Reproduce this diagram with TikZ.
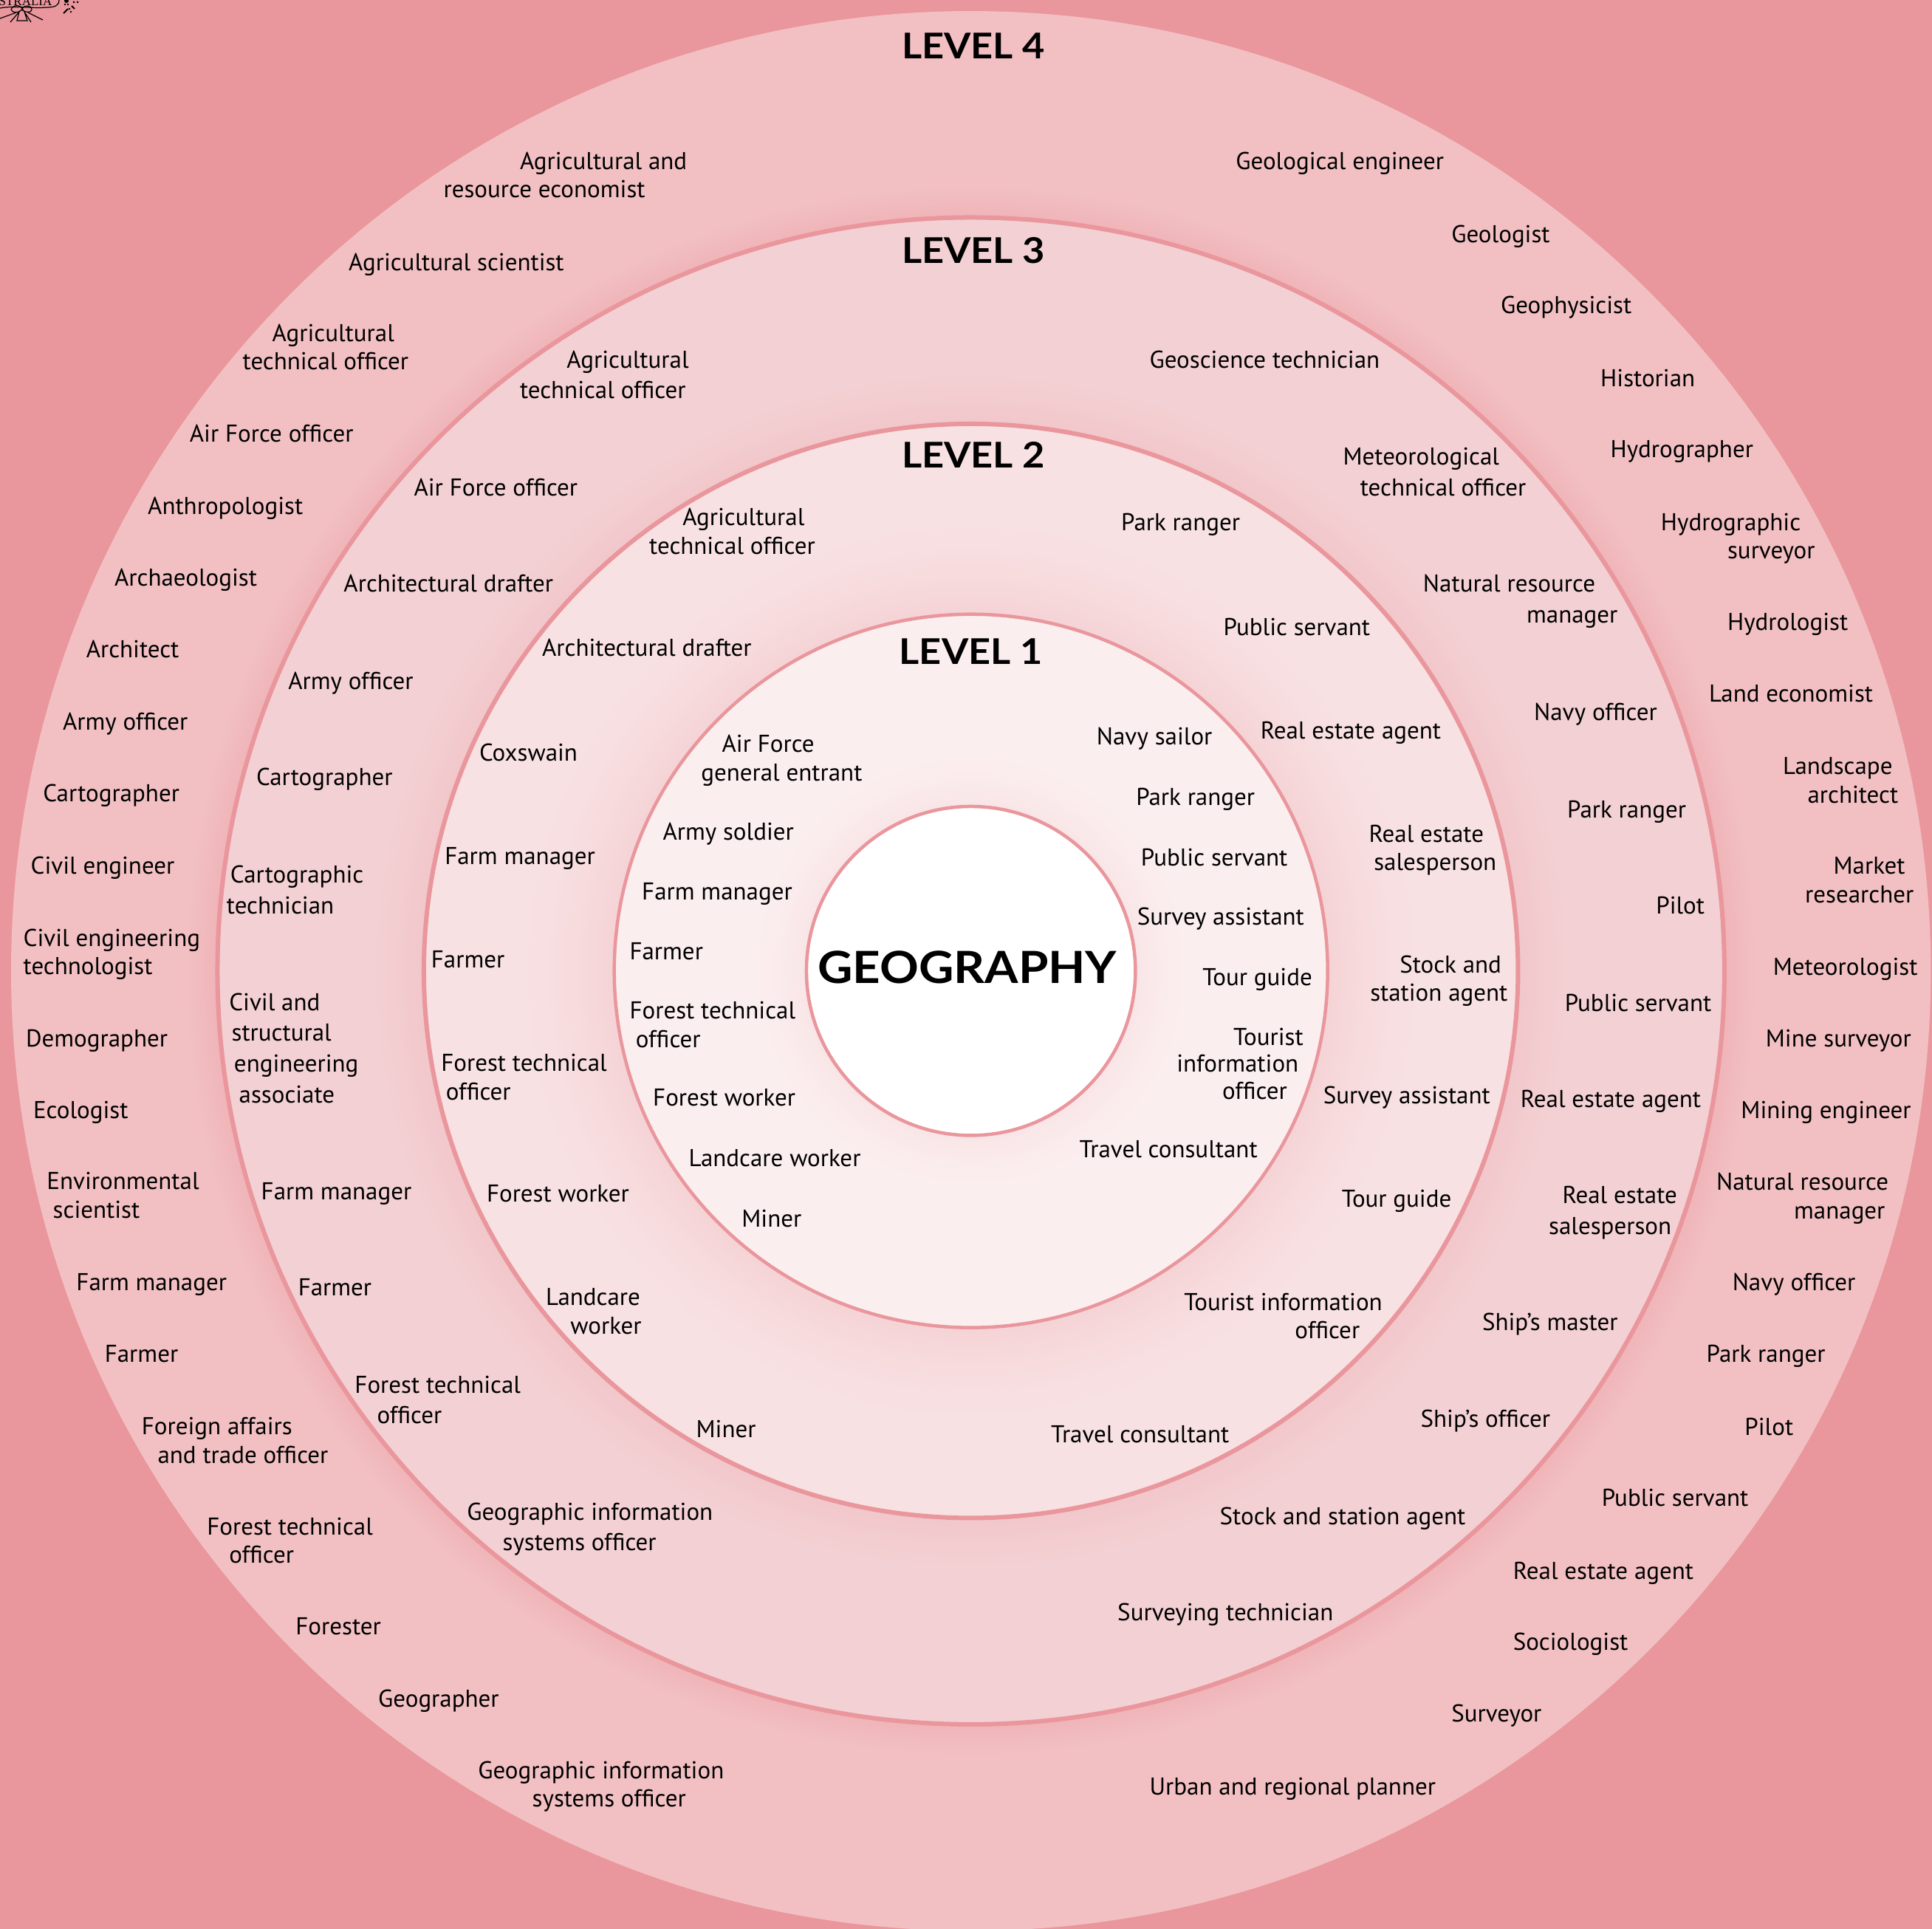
\documentclass[tikz,border=0pt]{standalone}
\usepackage{fontspec}
\setmainfont{PT Sans}
\newfontfamily\headfont{Lato}[FakeStretch=1.09]
\newfontfamily\logofont{Liberation Serif}
\definecolor{bgpink}{HTML}{E9969C}
\definecolor{ringfour}{HTML}{F2C0C3}
\definecolor{ringthree}{HTML}{F3D0D3}
\definecolor{ringtwo}{HTML}{F8E1E3}
\definecolor{ringone}{HTML}{FBEEEF}
\newlength{\ru}\setlength{\ru}{1.66837pt}
\newcommand{\I}[1]{\hspace*{#1\ru}}
\newcommand{\LL}{\\[3.3pt]}
\tikzset{
  x=1.66837pt,y=-1.66837pt,
  job/.style={anchor=west,inner sep=0pt,outer sep=0pt,align=left,text=black,
    font=\fontsize{33}{38.4}\selectfont},
  levelhead/.style={inner sep=0pt,font=\headfont\bfseries\fontsize{48}{50}\selectfont},
  ring/.style={draw=bgpink,line width=#1},
}
% concentric halo: #1 radius, #2 width, #3 strength percent, #4 base colour
\newcommand{\halo}[4]{%
  \foreach \k in {0,...,31}{%
    \pgfmathsetmacro{\rr}{#1+#2*(1-\k/32)}
    \pgfmathsetmacro{\pp}{#3*(\k/31)^1.5}
    \fill[bgpink!\pp!#4] (788,788) circle (\rr);
  }}
\begin{document}
\begin{tikzpicture}
\useasboundingbox (0,0) rectangle (1568,1565.6);
\fill[bgpink] (0,0) rectangle (1568,1565.6);
\begin{scope}
\clip (0,0) rectangle (1568,1565.6);
% level 4
\fill[ringfour] (788,788) circle (779);
\halo{611.5}{32}{28}{ringfour}
\draw[ring=6pt,fill=ringthree] (788,788) circle (611.5);
\halo{444}{45}{16}{ringthree}
\draw[ring=6pt,fill=ringtwo] (788,788) circle (444);
\halo{289.5}{80}{18}{ringtwo}
\draw[ring=4.5pt,fill=ringone] (788,788) circle (289.5);
\halo{133.5}{45}{10}{ringone}
\draw[ring=4.5pt,fill=white] (788,788) circle (133.5);
\end{scope}
% headings
\node[levelhead] (h4) at (790,37) {LEVEL 4};
\node[levelhead] (h3) at (790,203) {LEVEL 3};
\node[levelhead] (h2) at (790,369) {LEVEL 2};
\node[levelhead] (h1) at (788,529) {LEVEL 1};
\node[inner sep=0pt,font=\headfont\bfseries\fontsize{60}{62}\selectfont] (title) at (785,785) {GEOGRAPHY};
% job labels
\foreach \px/\py/\txt [count=\n] in {
360/142.5/\I{62}Agricultural and\\resource economist,
283/213/Agricultural scientist,
197/282/\I{24}Agricultural\\technical officer,
154/352/Air Force officer,
120/411/Anthropologist,
93/469/Archaeologist,
70/527/Architect,
51/586/Army officer,
35/644/Cartographer,
25/703/Civil engineer,
19/773/Civil engineering\\technologist,
21/843/Demographer,
27/901/Ecologist,
38/970.5/Environmental\\\I{5}scientist,
62/1041/Farm manager,
85/1099/Farmer,
115/1169.5/Foreign affairs\\\I{13}and trade officer,
168/1250.5/Forest technical\\\I{18}officer,
240/1320/Forester,
307/1379/Geographer,
388/1448.5/Geographic information\\\I{44}systems officer,
933/1450/Urban and regional planner,
1178/1391/Surveyor,
1228/1333/Sociologist,
1228/1275/Real estate agent,
1300/1216/Public servant,
1416/1158/Pilot,
1385/1099/Park ranger,
1406/1041/Navy officer,
1393/971/Natural resource\\\I{63}manager,
1413/901/Mining engineer,
1433/843/Mine surveyor,
1439/785/Meteorologist,
1465/714.5/\I{23}Market\\researcher,
1447/633.5/Landscape\\\I{20}architect,
1387/563/Land economist,
1402/505/Hydrologist,
1348/435.5/Hydrographic\\\I{54}surveyor,
1307/365/Hydrographer,
1299/307/Historian,
1218/248/Geophysicist,
1178/190/Geologist,
1003/131/Geological engineer,
%
422/304.5/\I{38}Agricultural\LL technical officer,
336/396/Air Force officer,
279/474/Architectural drafter,
234/553/Army officer,
208/631/Cartographer,
184/722.5/\I{3}Cartographic\LL technician,
186/851/Civil and\LL\I{2}structural\LL\I{4}engineering\LL\I{8}associate,
212/967/Farm manager,
242/1045/Farmer,
288/1136.5/Forest technical\LL\I{18}officer,
379/1239.5/Geographic information\LL\I{29}systems officer,
907/1309/Surveying technician,
990/1231/Stock and station agent,
1153/1152/Ship’s officer,
1203/1073/Ship’s master,
1257/982.5/\I{11}Real estate\LL salesperson,
1234/892/Real estate agent,
1270/814/Public servant,
1344/735/Pilot,
1272/657/Park ranger,
1245/578/Navy officer,
1155/486.5/Natural resource\LL\I{84}manager,
1090/383.5/Meteorological\LL\I{14}technical officer,
933/292/Geoscience technician,
%
527/431.5/\I{27}Agricultural\\technical officer,
440/526/Architectural drafter,
389/611/Coxswain,
361/695/Farm manager,
350/779/Farmer,
358/874.5/Forest technical\\\I{4}officer,
395/969/Forest worker,
443/1064.5/Landcare\\\I{20}worker,
565/1160/Miner,
853/1164/Travel consultant,
961/1068.5/Tourist information\\\I{90}officer,
1089/973/Tour guide,
1074/889/Survey assistant,
1112/794.5/\I{24}Stock and\\station agent,
1111/688.5/Real estate\\\I{4}salesperson,
1023/593/Real estate agent,
993/509/Public servant,
910/424/Park ranger,
%
569/615.5/\I{17}Air Force\\general entrant,
538/675/Army soldier,
521/724/Farm manager,
511/772/Farmer,
511/832/Forest technical\\\I{5}officer,
530/891/Forest worker,
559/940/Landcare worker,
602/989/Miner,
890/598/Navy sailor,
922/647/Park ranger,
926/696/Public servant,
923/744/Survey assistant,
976/793/Tour guide,
955/863.5/\I{46}Tourist\\[-2pt]information\\[-2pt]\I{37}officer,
876/933/Travel consultant%
}{
  \node[job] (job\n) at (\px,\py+2) {\strut\txt\strut};
}
% cropped crest at the top-left corner
\begin{scope}[x=1pt,y=-1pt,line width=1.2pt,black]
\clip (0,0) rectangle (120,40);
\node[inner sep=0pt,anchor=base east,font=\logofont\fontsize{17}{17}\selectfont] (crest) at (71,7.5) {STRALIA};
\draw (80,0) .. controls (80,8) and (74,10) .. (62,10) .. controls (45,12) and (20,7) .. (0,11);
\draw (15,13) .. controls (18,5) and (30,7) .. (30,13) .. controls (30,7) and (43,6) .. (43,13) .. controls (43,18) and (33,17) .. (30,13) .. controls (25,18) and (17,18) .. (15,13);
\draw (0,25) -- (22,17);
\draw (58,27) -- (38,17);
\draw (14,30) -- (26,16) -- (23,28) -- (37,28) -- (33,16) -- (42,30);
\draw[line width=2pt] (86,18) -- (92,12);
\draw[line width=2pt] (101,12) -- (97,8);
\fill (88,6) circle (1.3) (92,6) circle (1.3) (96,16) circle (1.3) (94,12) circle (1.3) (90,1) circle (3) (100,3) circle (1.5) (105,3) circle (1.5);
\end{scope}
\end{tikzpicture}
\end{document}
